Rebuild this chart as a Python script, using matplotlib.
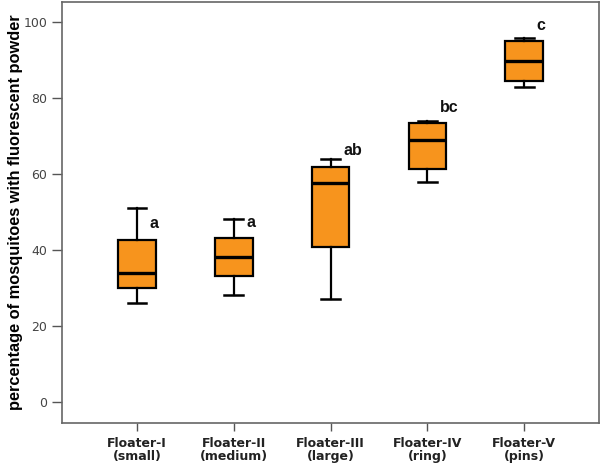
import matplotlib.pyplot as plt

labels = ["Floater-I\n(small)", "Floater-II\n(medium)", "Floater-III\n(large)",
          "Floater-IV\n(ring)", "Floater-V\n(pins)"]
whis_lo = [26.1, 28.1, 27.1, 58.0, 82.9]
q1 = [30.1, 33.1, 40.9, 61.4, 84.5]
median = [34.0, 38.1, 57.6, 69.0, 89.9]
q3 = [42.7, 43.1, 62.0, 73.4, 95.0]
whis_hi = [51.0, 48.1, 64.0, 74.0, 96.0]
letters = ["a", "a", "ab", "bc", "c"]


def main():
    fig = plt.figure(figsize=(6, 4.65), dpi=100)
    ax = fig.add_axes([0.104, 0.091, 0.894, 0.905])

    stats = []
    for i in range(len(labels)):
        stats.append(dict(whislo=whis_lo[i], q1=q1[i], med=median[i], q3=q3[i],
                          whishi=whis_hi[i], fliers=[]))
    pos = list(range(1, len(labels) + 1))
    ax.bxp(stats, positions=pos, widths=0.39, patch_artist=True, showfliers=False,
           boxprops=dict(facecolor="#f7941d", edgecolor="black", linewidth=1.6),
           medianprops=dict(color="black", linewidth=2.4),
           whiskerprops=dict(color="black", linewidth=1.6),
           capprops=dict(color="black", linewidth=1.8))

    # significance letters
    for p, top, let in zip(pos, q3, letters):
        ax.text(p + 0.13, top + 4.3, let, ha="left", va="center",
                fontsize=11.5, fontweight="bold", color="#111111",
                family="Liberation Sans")

    ax.set_xlim(0.23, 5.77)
    ax.set_ylim(-5.4, 105.4)
    ax.set_yticks([0, 20, 40, 60, 80, 100])
    ax.set_xticks(pos)
    ax.set_xticklabels(labels, fontweight="bold", fontsize=9, color="#222222",
                       linespacing=1.0)
    ax.tick_params(axis="y", length=7, width=1, color="#555555", labelsize=9,
                   labelcolor="#444444", pad=4)
    ax.tick_params(axis="x", length=6, width=1, color="#555555", pad=4)
    for s in ax.spines.values():
        s.set_color("#666666")
        s.set_linewidth(1.2)
    fig.text(0.026, 0.544, "percentage of mosquitoes with fluorescent powder",
             rotation=90, ha="center", va="center", fontsize=11.8,
             fontweight="bold", family="Liberation Sans")

    fig.savefig("out.png", dpi=100)


if __name__ == "__main__":
    main()
